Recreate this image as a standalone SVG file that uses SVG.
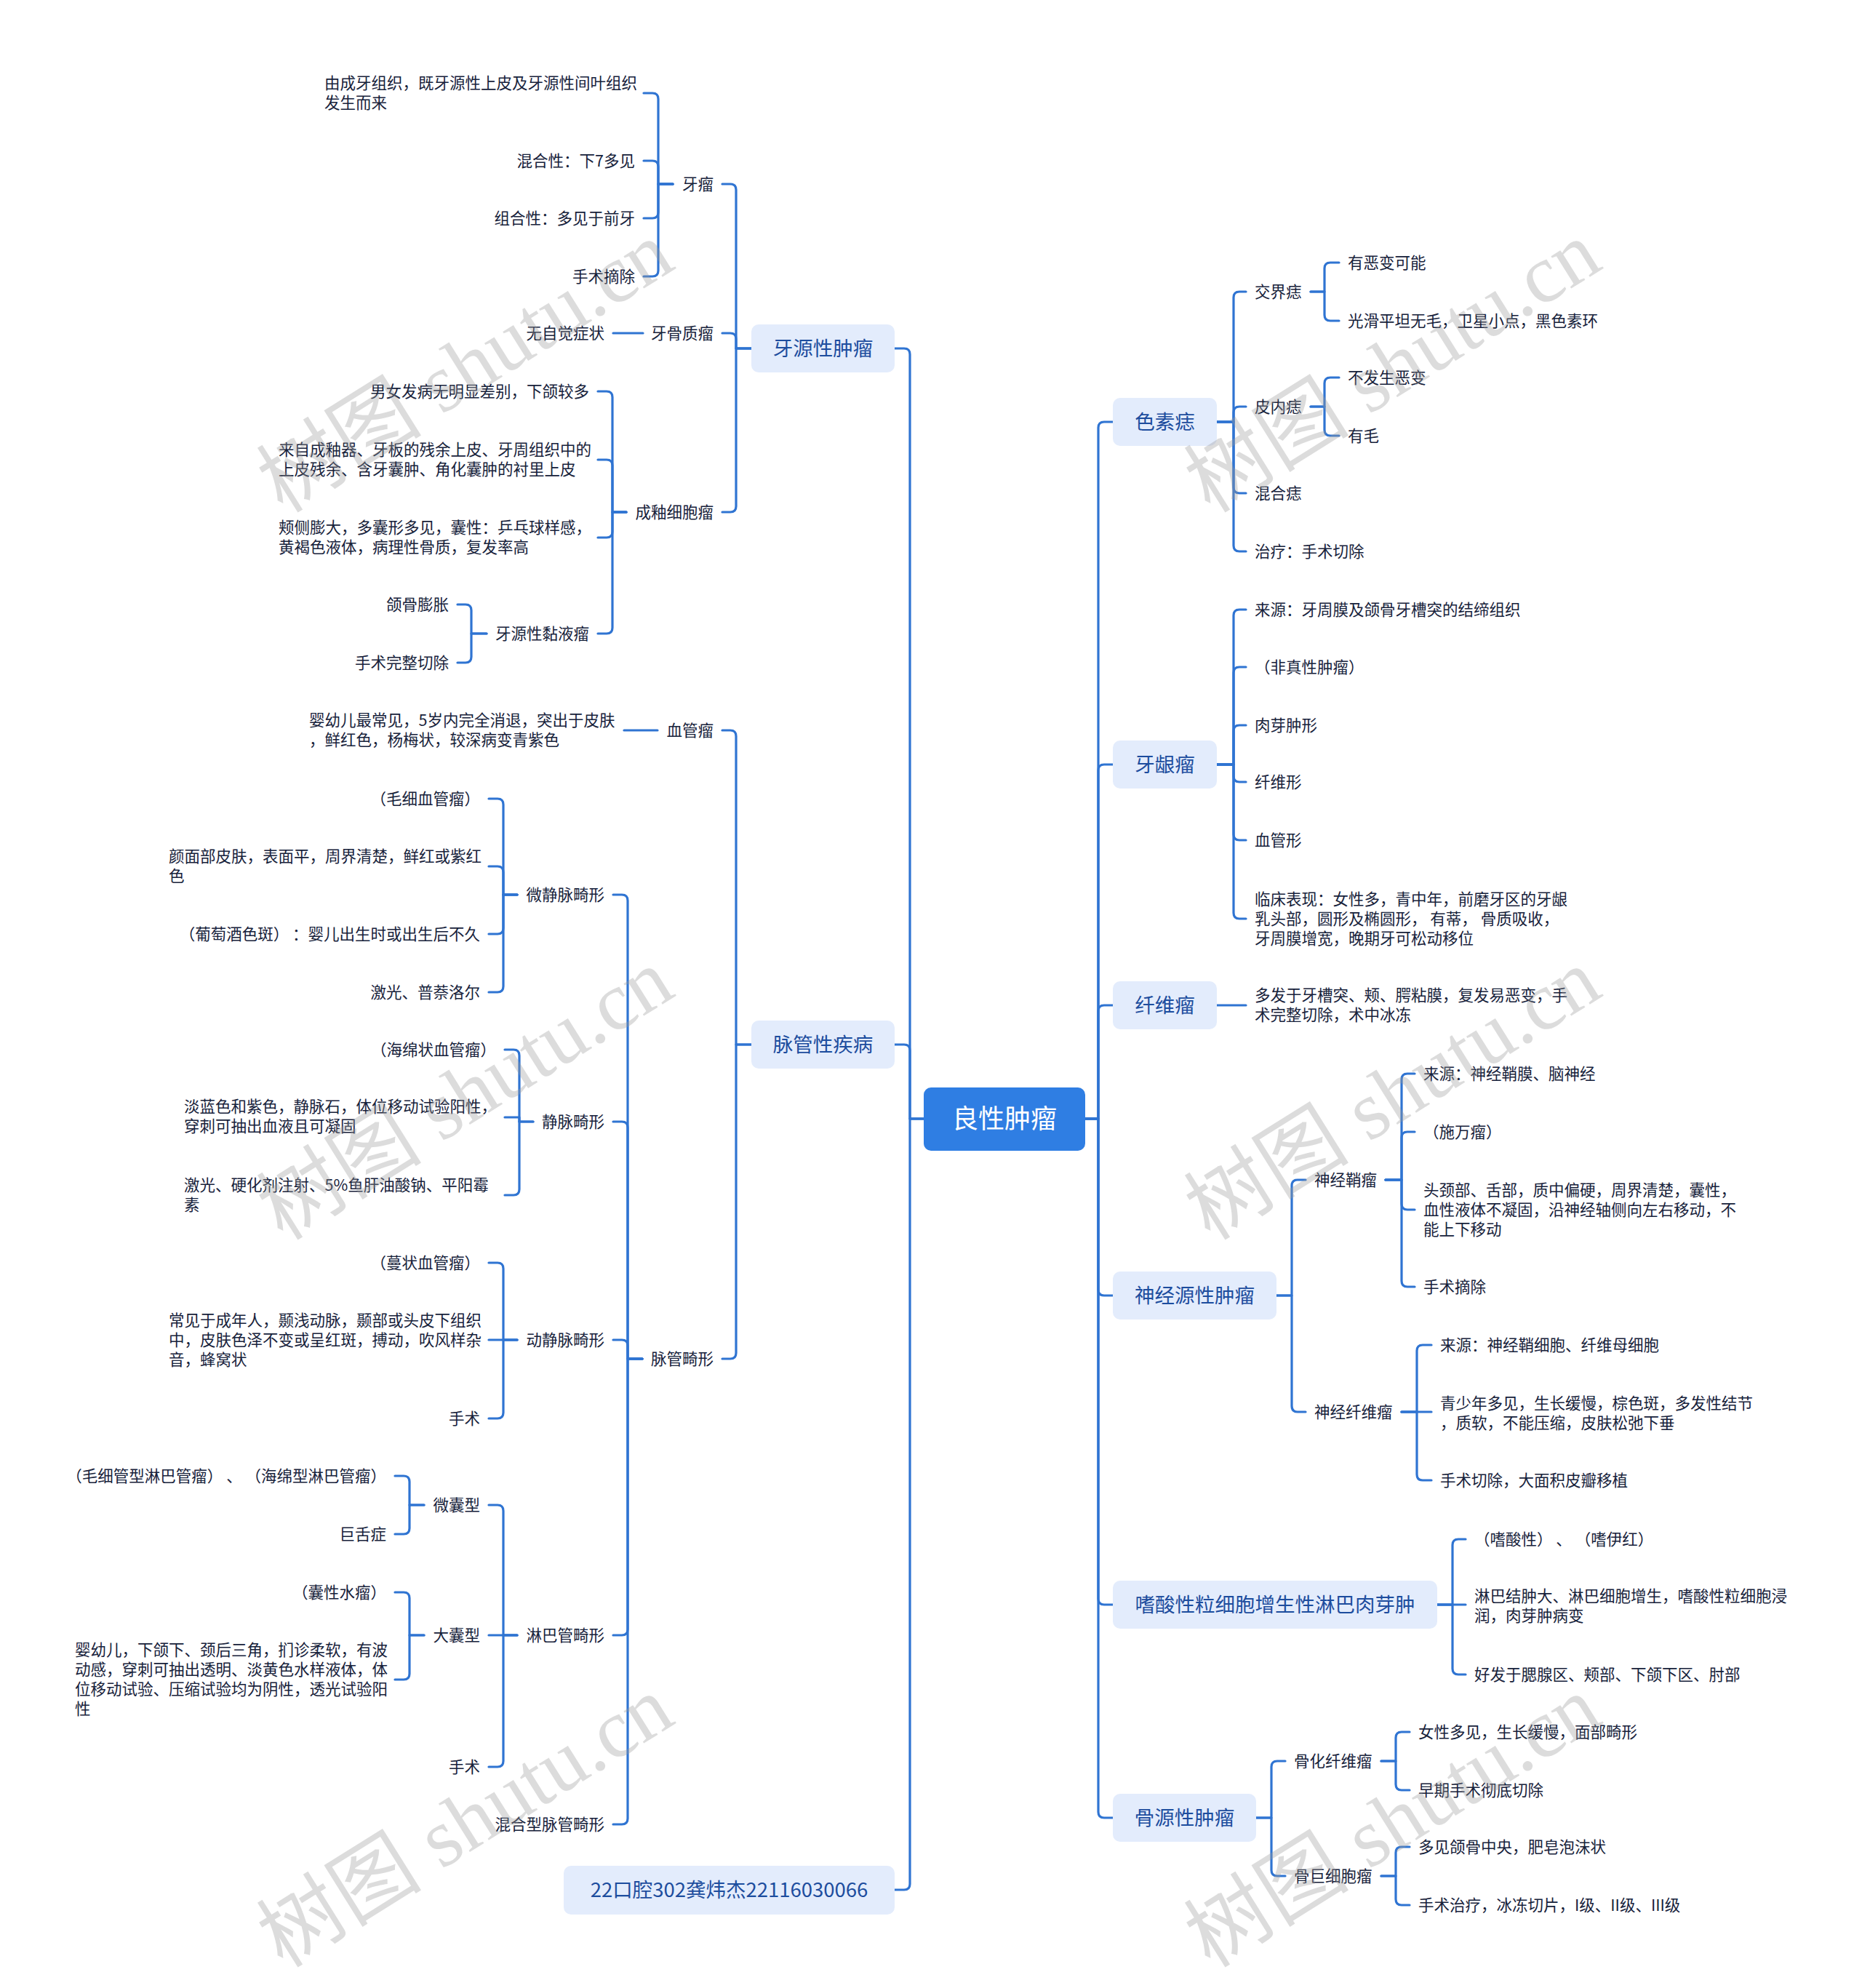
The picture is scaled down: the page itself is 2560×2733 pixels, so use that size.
<svg xmlns="http://www.w3.org/2000/svg" width="2560" height="2733" viewBox="0 0 2560 2733">
<style>
.bg{fill:#ffffff}
.ln{fill:none;stroke:#2f74d2;stroke-width:3.2;stroke-linecap:round;stroke-linejoin:round}
.t{font-family:"Noto Sans CJK SC","Noto Sans",sans-serif;font-size:21.5px;fill:#17223b}
.e{text-anchor:end}
.b1{fill:#e3ecfc}
.t1{font-family:"Noto Sans CJK SC","Noto Sans",sans-serif;font-size:27.5px;fill:#1d4d9e;text-anchor:middle}
.b0{fill:#2f7ee3}
.t0{font-family:"Noto Sans CJK SC","Noto Sans",sans-serif;font-size:36px;fill:#ffffff;text-anchor:middle}
.wm{font-family:"Liberation Serif","Noto Sans CJK SC",serif;font-size:114px;fill:#9a9a9a;fill-opacity:0.35;text-anchor:middle}
</style>
<rect class="bg" x="0" y="0" width="2560" height="2733"/>
<g id="connectors">
<path class="ln" d="M1270 1538 H1251 V487 Q1251 479 1243 479 H1230"/>
<path class="ln" d="M1270 1538 H1251 V1444 Q1251 1436 1243 1436 H1230"/>
<path class="ln" d="M1270 1538 H1251 V2590 Q1251 2598 1243 2598 H1230"/>
<path class="ln" d="M1492 1538 H1510 V588 Q1510 580 1518 580 H1530"/>
<path class="ln" d="M1492 1538 H1510 V1059 Q1510 1051 1518 1051 H1530"/>
<path class="ln" d="M1492 1538 H1510 V1390 Q1510 1382 1518 1382 H1530"/>
<path class="ln" d="M1492 1538 H1510 V1773 Q1510 1781 1518 1781 H1530"/>
<path class="ln" d="M1492 1538 H1510 V2198 Q1510 2206 1518 2206 H1530"/>
<path class="ln" d="M1492 1538 H1510 V2491 Q1510 2499 1518 2499 H1530"/>
<path class="ln" d="M1033 479 H1012 V261 Q1012 253 1004 253 H993"/>
<path class="ln" d="M1033 479 H1012 V466 Q1012 458 1004 458 H993"/>
<path class="ln" d="M1033 479 H1012 V696 Q1012 704 1004 704 H993"/>
<path class="ln" d="M925 253 H905 V136 Q905 128 897 128 H885"/>
<path class="ln" d="M925 253 H905 V229 Q905 221 897 221 H885"/>
<path class="ln" d="M925 253 H905 V292 Q905 300 897 300 H885"/>
<path class="ln" d="M925 253 H905 V372 Q905 380 897 380 H885"/>
<path class="ln" d="M884 458 H843"/>
<path class="ln" d="M861 704 H842 V546 Q842 538 834 538 H822"/>
<path class="ln" d="M861 704 H842 V640 Q842 632 834 632 H822"/>
<path class="ln" d="M861 704 H842 V731 Q842 739 834 739 H822"/>
<path class="ln" d="M861 704 H842 V863 Q842 871 834 871 H822"/>
<path class="ln" d="M669 871 H648 V839 Q648 831 640 831 H629"/>
<path class="ln" d="M669 871 H648 V903 Q648 911 640 911 H629"/>
<path class="ln" d="M1033 1436 H1012 V1012 Q1012 1004 1004 1004 H993"/>
<path class="ln" d="M1033 1436 H1012 V1860 Q1012 1868 1004 1868 H993"/>
<path class="ln" d="M904 1004 H858"/>
<path class="ln" d="M883 1868 H863 V1238 Q863 1230 855 1230 H843"/>
<path class="ln" d="M883 1868 H863 V1550 Q863 1542 855 1542 H843"/>
<path class="ln" d="M883 1868 H863 V1850 Q863 1842 855 1842 H843"/>
<path class="ln" d="M883 1868 H863 V2240 Q863 2248 855 2248 H843"/>
<path class="ln" d="M883 1868 H863 V2500 Q863 2508 855 2508 H843"/>
<path class="ln" d="M711 1230 H692 V1106 Q692 1098 684 1098 H672"/>
<path class="ln" d="M711 1230 H692 V1199 Q692 1191 684 1191 H672"/>
<path class="ln" d="M711 1230 H692 V1276 Q692 1284 684 1284 H672"/>
<path class="ln" d="M711 1230 H692 V1356 Q692 1364 684 1364 H672"/>
<path class="ln" d="M733 1542 H714 V1451 Q714 1443 706 1443 H694"/>
<path class="ln" d="M714 1542 V1536 H694"/>
<path class="ln" d="M733 1542 H714 V1635 Q714 1643 706 1643 H694"/>
<path class="ln" d="M711 1842 H692 V1744 Q692 1736 684 1736 H672"/>
<path class="ln" d="M711 1842 H672"/>
<path class="ln" d="M711 1842 H692 V1942 Q692 1950 684 1950 H672"/>
<path class="ln" d="M711 2248 H692 V2077 Q692 2069 684 2069 H672"/>
<path class="ln" d="M711 2248 H672"/>
<path class="ln" d="M711 2248 H692 V2421 Q692 2429 684 2429 H672"/>
<path class="ln" d="M583 2069 H563 V2037 Q563 2029 555 2029 H543"/>
<path class="ln" d="M583 2069 H563 V2101 Q563 2109 555 2109 H543"/>
<path class="ln" d="M583 2248 H563 V2197 Q563 2189 555 2189 H543"/>
<path class="ln" d="M583 2248 H563 V2301 Q563 2309 555 2309 H543"/>
<path class="ln" d="M1673 580 H1696 V409 Q1696 401 1704 401 H1713"/>
<path class="ln" d="M1673 580 H1696 V567 Q1696 559 1704 559 H1713"/>
<path class="ln" d="M1673 580 H1696 V670 Q1696 678 1704 678 H1713"/>
<path class="ln" d="M1673 580 H1696 V750 Q1696 758 1704 758 H1713"/>
<path class="ln" d="M1802 401 H1821 V369 Q1821 361 1829 361 H1841"/>
<path class="ln" d="M1802 401 H1821 V433 Q1821 441 1829 441 H1841"/>
<path class="ln" d="M1802 559 H1821 V527 Q1821 519 1829 519 H1841"/>
<path class="ln" d="M1802 559 H1821 V591 Q1821 599 1829 599 H1841"/>
<path class="ln" d="M1673 1051 H1696 V846 Q1696 838 1704 838 H1713"/>
<path class="ln" d="M1673 1051 H1696 V925 Q1696 917 1704 917 H1713"/>
<path class="ln" d="M1673 1051 H1696 V1005 Q1696 997 1704 997 H1713"/>
<path class="ln" d="M1673 1051 H1696 V1067 Q1696 1075 1704 1075 H1713"/>
<path class="ln" d="M1673 1051 H1696 V1147 Q1696 1155 1704 1155 H1713"/>
<path class="ln" d="M1673 1051 H1696 V1255 Q1696 1263 1704 1263 H1713"/>
<path class="ln" d="M1673 1382 H1713"/>
<path class="ln" d="M1755 1781 H1776 V1630 Q1776 1622 1784 1622 H1795"/>
<path class="ln" d="M1755 1781 H1776 V1933 Q1776 1941 1784 1941 H1795"/>
<path class="ln" d="M1905 1622 H1927 V1484 Q1927 1476 1935 1476 H1945"/>
<path class="ln" d="M1905 1622 H1927 V1564 Q1927 1556 1935 1556 H1945"/>
<path class="ln" d="M1905 1622 H1927 V1655 Q1927 1663 1935 1663 H1945"/>
<path class="ln" d="M1905 1622 H1927 V1761 Q1927 1769 1935 1769 H1945"/>
<path class="ln" d="M1927 1941 H1948 V1857 Q1948 1849 1956 1849 H1968"/>
<path class="ln" d="M1927 1941 H1968"/>
<path class="ln" d="M1927 1941 H1948 V2027 Q1948 2035 1956 2035 H1968"/>
<path class="ln" d="M1976 2206 H1997 V2124 Q1997 2116 2005 2116 H2015"/>
<path class="ln" d="M1976 2206 H2015"/>
<path class="ln" d="M1976 2206 H1997 V2294 Q1997 2302 2005 2302 H2015"/>
<path class="ln" d="M1727 2499 H1748 V2429 Q1748 2421 1756 2421 H1767"/>
<path class="ln" d="M1727 2499 H1748 V2571 Q1748 2579 1756 2579 H1767"/>
<path class="ln" d="M1899 2421 H1919 V2389 Q1919 2381 1927 2381 H1938"/>
<path class="ln" d="M1899 2421 H1919 V2453 Q1919 2461 1927 2461 H1938"/>
<path class="ln" d="M1899 2579 H1919 V2547 Q1919 2539 1927 2539 H1938"/>
<path class="ln" d="M1899 2579 H1919 V2611 Q1919 2619 1927 2619 H1938"/>
</g>

<g id="root"><rect class="b0" x="1270" y="1495" width="222" height="87" rx="10"/><text class="t0" x="1381" y="1551">良性肿瘤</text></g>

<g id="n-yayuan"><rect class="b1" x="1033" y="446" width="197" height="66" rx="10"/><text class="t1" x="1131.5" y="489">牙源性肿瘤</text></g>
<g id="n-yaliu"><text class="t e" x="981" y="260.5">牙瘤</text></g>
<g id="n-yaliu-1"><text class="t" x="446" y="122">由成牙组织，既牙源性上皮及牙源性间叶组织</text><text class="t" x="446" y="149">发生而来</text></g>
<g id="n-yaliu-2"><text class="t e" x="873" y="228.5">混合性：下7多见</text></g>
<g id="n-yaliu-3"><text class="t e" x="873" y="307.5">组合性：多见于前牙</text></g>
<g id="n-yaliu-4"><text class="t e" x="873" y="387.5">手术摘除</text></g>
<g id="n-yagu"><text class="t e" x="981" y="465.5">牙骨质瘤</text></g>
<g id="n-yagu-1"><text class="t e" x="831" y="465.5">无自觉症状</text></g>
<g id="n-chengyou"><text class="t e" x="981" y="711.5">成釉细胞瘤</text></g>
<g id="n-chengyou-1"><text class="t e" x="810" y="545.5">男女发病无明显差别，下颌较多</text></g>
<g id="n-chengyou-2"><text class="t" x="383" y="626">来自成釉器、牙板的残余上皮、牙周组织中的</text><text class="t" x="383" y="653">上皮残余、含牙囊肿、角化囊肿的衬里上皮</text></g>
<g id="n-chengyou-3"><text class="t" x="383" y="733">颊侧膨大，多囊形多见，囊性：乒乓球样感，</text><text class="t" x="383" y="760">黄褐色液体，病理性骨质，复发率高</text></g>
<g id="n-nianye"><text class="t e" x="810" y="878.5">牙源性黏液瘤</text></g>
<g id="n-nianye-1"><text class="t e" x="617" y="838.5">颌骨膨胀</text></g>
<g id="n-nianye-2"><text class="t e" x="617" y="918.5">手术完整切除</text></g>

<g id="n-maiguan"><rect class="b1" x="1033" y="1403" width="197" height="66" rx="10"/><text class="t1" x="1131.5" y="1446">脉管性疾病</text></g>
<g id="n-xueguanliu"><text class="t e" x="981" y="1011.5">血管瘤</text></g>
<g id="n-xueguanliu-1"><text class="t" x="425" y="998">婴幼儿最常见，5岁内完全消退，突出于皮肤</text><text class="t" x="425" y="1025">，鲜红色，杨梅状，较深病变青紫色</text></g>
<g id="n-jixing"><text class="t e" x="981" y="1875.5">脉管畸形</text></g>
<g id="n-wjm"><text class="t e" x="831" y="1237.5">微静脉畸形</text></g>
<g id="n-wjm-1"><text class="t e" x="660" y="1105.5">（毛细血管瘤）</text></g>
<g id="n-wjm-2"><text class="t" x="232" y="1185">颜面部皮肤，表面平，周界清楚，鲜红或紫红</text><text class="t" x="232" y="1212">色</text></g>
<g id="n-wjm-3"><text class="t e" x="660" y="1291.5">（葡萄酒色斑） ：婴儿出生时或出生后不久</text></g>
<g id="n-wjm-4"><text class="t e" x="660" y="1371.5">激光、普萘洛尔</text></g>
<g id="n-jm"><text class="t e" x="831" y="1549.5">静脉畸形</text></g>
<g id="n-jm-1"><text class="t e" x="682" y="1450.5">（海绵状血管瘤）</text></g>
<g id="n-jm-2"><text class="t" x="253" y="1529">淡蓝色和紫色，静脉石，体位移动试验阳性，</text><text class="t" x="253" y="1556">穿刺可抽出血液且可凝固</text></g>
<g id="n-jm-3"><text class="t" x="253" y="1637">激光、硬化剂注射、5%鱼肝油酸钠、平阳霉</text><text class="t" x="253" y="1664">素</text></g>
<g id="n-djm"><text class="t e" x="831" y="1849.5">动静脉畸形</text></g>
<g id="n-djm-1"><text class="t e" x="660" y="1743.5">（蔓状血管瘤）</text></g>
<g id="n-djm-2"><text class="t" x="232" y="1822.5">常见于成年人，颞浅动脉，颞部或头皮下组织</text><text class="t" x="232" y="1849.5">中，皮肤色泽不变或呈红斑，搏动，吹风样杂</text><text class="t" x="232" y="1876.5">音，蜂窝状</text></g>
<g id="n-djm-3"><text class="t e" x="660" y="1957.5">手术</text></g>
<g id="n-lb"><text class="t e" x="831" y="2255.5">淋巴管畸形</text></g>
<g id="n-wn"><text class="t e" x="660" y="2076.5">微囊型</text></g>
<g id="n-wn-1"><text class="t e" x="531" y="2036.5">（毛细管型淋巴管瘤） 、 （海绵型淋巴管瘤）</text></g>
<g id="n-wn-2"><text class="t e" x="531" y="2116.5">巨舌症</text></g>
<g id="n-dn"><text class="t e" x="660" y="2255.5">大囊型</text></g>
<g id="n-dn-1"><text class="t e" x="531" y="2196.5">（囊性水瘤）</text></g>
<g id="n-dn-2"><text class="t" x="103" y="2276">婴幼儿，下颌下、颈后三角，扪诊柔软，有波</text><text class="t" x="103" y="2303">动感，穿刺可抽出透明、淡黄色水样液体，体</text><text class="t" x="103" y="2330">位移动试验、压缩试验均为阴性，透光试验阳</text><text class="t" x="103" y="2357">性</text></g>
<g id="n-lb-3"><text class="t e" x="660" y="2436.5">手术</text></g>
<g id="n-hunhe"><text class="t e" x="831" y="2515.5">混合型脉管畸形</text></g>

<g id="n-author"><rect class="b1" x="775" y="2565" width="455" height="67" rx="10"/><text class="t1" x="1002.5" y="2608">22口腔302龚炜杰22116030066</text></g>

<g id="n-sesu"><rect class="b1" x="1530" y="547" width="143" height="66" rx="10"/><text class="t1" x="1601.5" y="590">色素痣</text></g>
<g id="n-jiaojie"><text class="t" x="1725" y="408.5">交界痣</text></g>
<g id="n-jiaojie-1"><text class="t" x="1853" y="368.5">有恶变可能</text></g>
<g id="n-jiaojie-2"><text class="t" x="1853" y="448.5">光滑平坦无毛，卫星小点，黑色素环</text></g>
<g id="n-pinei"><text class="t" x="1725" y="566.5">皮内痣</text></g>
<g id="n-pinei-1"><text class="t" x="1853" y="526.5">不发生恶变</text></g>
<g id="n-pinei-2"><text class="t" x="1853" y="606.5">有毛</text></g>
<g id="n-hunhezhi"><text class="t" x="1725" y="685.5">混合痣</text></g>
<g id="n-zhiliao"><text class="t" x="1725" y="765.5">治疗：手术切除</text></g>

<g id="n-yayin"><rect class="b1" x="1530" y="1018" width="143" height="66" rx="10"/><text class="t1" x="1601.5" y="1061">牙龈瘤</text></g>
<g id="n-yayin-1"><text class="t" x="1725" y="845.5">来源：牙周膜及颌骨牙槽突的结缔组织</text></g>
<g id="n-yayin-2"><text class="t" x="1725" y="924.5">（非真性肿瘤）</text></g>
<g id="n-yayin-3"><text class="t" x="1725" y="1004.5">肉芽肿形</text></g>
<g id="n-yayin-4"><text class="t" x="1725" y="1082.5">纤维形</text></g>
<g id="n-yayin-5"><text class="t" x="1725" y="1162.5">血管形</text></g>
<g id="n-yayin-6"><text class="t" x="1725" y="1243.5">临床表现：女性多，青中年，前磨牙区的牙龈</text><text class="t" x="1725" y="1270.5">乳头部，圆形及椭圆形， 有蒂， 骨质吸收，</text><text class="t" x="1725" y="1297.5">牙周膜增宽，晚期牙可松动移位</text></g>

<g id="n-xianwei"><rect class="b1" x="1530" y="1349" width="143" height="66" rx="10"/><text class="t1" x="1601.5" y="1392">纤维瘤</text></g>
<g id="n-xianwei-1"><text class="t" x="1725" y="1376">多发于牙槽突、颊、腭粘膜，复发易恶变，手</text><text class="t" x="1725" y="1403">术完整切除，术中冰冻</text></g>

<g id="n-shenjing"><rect class="b1" x="1530" y="1748" width="225" height="66" rx="10"/><text class="t1" x="1642.5" y="1791">神经源性肿瘤</text></g>
<g id="n-sjq"><text class="t" x="1807" y="1629.5">神经鞘瘤</text></g>
<g id="n-sjq-1"><text class="t" x="1957" y="1483.5">来源：神经鞘膜、脑神经</text></g>
<g id="n-sjq-2"><text class="t" x="1957" y="1563.5">（施万瘤）</text></g>
<g id="n-sjq-3"><text class="t" x="1957" y="1643.5">头颈部、舌部，质中偏硬，周界清楚，囊性，</text><text class="t" x="1957" y="1670.5">血性液体不凝固，沿神经轴侧向左右移动，不</text><text class="t" x="1957" y="1697.5">能上下移动</text></g>
<g id="n-sjq-4"><text class="t" x="1957" y="1776.5">手术摘除</text></g>
<g id="n-sjxw"><text class="t" x="1807" y="1948.5">神经纤维瘤</text></g>
<g id="n-sjxw-1"><text class="t" x="1980" y="1856.5">来源：神经鞘细胞、纤维母细胞</text></g>
<g id="n-sjxw-2"><text class="t" x="1980" y="1937">青少年多见，生长缓慢，棕色斑，多发性结节</text><text class="t" x="1980" y="1964">，质软，不能压缩，皮肤松弛下垂</text></g>
<g id="n-sjxw-3"><text class="t" x="1980" y="2042.5">手术切除，大面积皮瓣移植</text></g>

<g id="n-shisuan"><rect class="b1" x="1530" y="2173" width="446" height="66" rx="10"/><text class="t1" x="1753" y="2216">嗜酸性粒细胞增生性淋巴肉芽肿</text></g>
<g id="n-shisuan-1"><text class="t" x="2027" y="2123.5">（嗜酸性） 、 （嗜伊红）</text></g>
<g id="n-shisuan-2"><text class="t" x="2027" y="2202">淋巴结肿大、淋巴细胞增生，嗜酸性粒细胞浸</text><text class="t" x="2027" y="2229">润，肉芽肿病变</text></g>
<g id="n-shisuan-3"><text class="t" x="2027" y="2309.5">好发于腮腺区、颊部、下颌下区、肘部</text></g>

<g id="n-guyuan"><rect class="b1" x="1530" y="2466" width="197" height="66" rx="10"/><text class="t1" x="1628.5" y="2509">骨源性肿瘤</text></g>
<g id="n-ghxw"><text class="t" x="1779" y="2428.5">骨化纤维瘤</text></g>
<g id="n-ghxw-1"><text class="t" x="1950" y="2388.5">女性多见，生长缓慢，面部畸形</text></g>
<g id="n-ghxw-2"><text class="t" x="1950" y="2468.5">早期手术彻底切除</text></g>
<g id="n-gjx"><text class="t" x="1779" y="2586.5">骨巨细胞瘤</text></g>
<g id="n-gjx-1"><text class="t" x="1950" y="2546.5">多见颌骨中央，肥皂泡沫状</text></g>
<g id="n-gjx-2"><text class="t" x="1950" y="2626.5">手术治疗，冰冻切片，I级、II级、III级</text></g>

<g id="watermarks">
<text class="wm" transform="translate(640 505) rotate(-32)" y="38">树图 shutu.cn</text>
<text class="wm" transform="translate(1915 505) rotate(-32)" y="38">树图 shutu.cn</text>
<text class="wm" transform="translate(640 1505) rotate(-32)" y="38">树图 shutu.cn</text>
<text class="wm" transform="translate(1915 1505) rotate(-32)" y="38">树图 shutu.cn</text>
<text class="wm" transform="translate(640 2505) rotate(-32)" y="38">树图 shutu.cn</text>
<text class="wm" transform="translate(1915 2505) rotate(-32)" y="38">树图 shutu.cn</text>
</g>
</svg>
